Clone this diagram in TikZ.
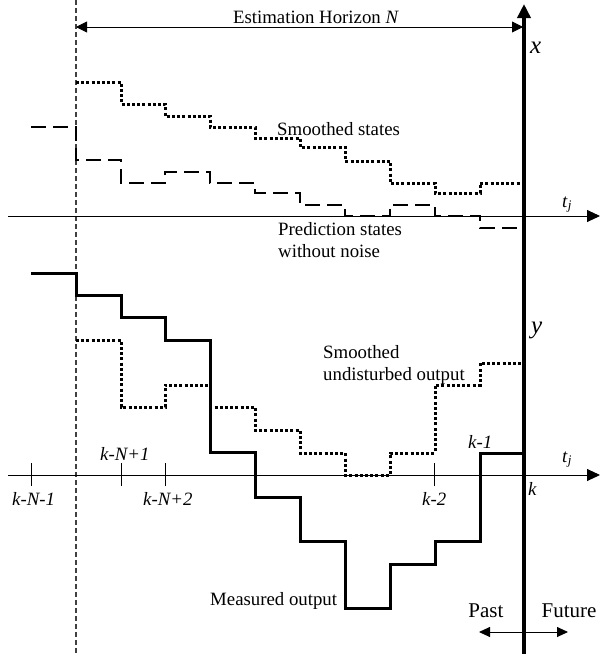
\documentclass[tikz,border=0pt]{standalone}
\usepackage{fontspec}
\setmainfont{Liberation Serif}
\usetikzlibrary{arrows.meta}
\begin{document}
\begin{tikzpicture}[x=1pt,y=-1pt,
  lbl/.style={inner sep=0pt,font=\fontsize{18.8}{21}\selectfont},
  biglbl/.style={inner sep=0pt,font=\fontsize{21}{24}\selectfont},
  axlbl/.style={inner sep=0pt,font=\fontsize{25}{28}\selectfont},
  thinaxis/.style={line width=0.9pt,-{Triangle[length=13pt,width=12pt]}},
  tickmark/.style={line width=0.9pt},
  dottedcurve/.style={line width=3pt,dash pattern=on 3pt off 2.2pt},
  dashedcurve/.style={line width=2.8pt,dash pattern=on 15pt off 7pt},
  solidcurve/.style={line width=3pt},
  bigaxis/.style={line width=4pt,-{Triangle[length=14pt,width=13pt]}},
  dimarrow/.style={line width=0.9pt,{Triangle[length=11pt,width=11pt]}-{Triangle[length=11pt,width=11pt]}},
  smallarrow/.style={line width=0.9pt,-{Triangle[length=11pt,width=10pt]}},
  horizonline/.style={line width=1.1pt,dash pattern=on 5pt off 3pt,black!75}]
\useasboundingbox (0,0) rectangle (600,654);

% coordinates
\coordinate (vtop) at (76,0);
\coordinate (vbot) at (76,654);
\coordinate (kbot) at (524,654);
\coordinate (ktop) at (524,4);
\coordinate (ax1s) at (8,216);
\coordinate (ax1e) at (600,216);
\coordinate (ax2s) at (8,475);
\coordinate (ax2e) at (600,475);
\coordinate (hl) at (76,27);
\coordinate (hr) at (523,27);
\coordinate (pm) at (524,632);
\coordinate (pl) at (479,632);
\coordinate (pr) at (568,632);

% horizon dashed line
\draw[horizonline] (vtop) -- (vbot);

% time axes
\draw[thinaxis] (ax1s) -- (ax1e);
\draw[thinaxis] (ax2s) -- (ax2e);

% ticks
\foreach \tx/\nm in {31/ta,121/tb,165/tc,434/td}{
  \coordinate (\nm u) at (\tx,463);
  \coordinate (\nm d) at (\tx,486);
  \draw[tickmark] (\nm u) -- (\nm d);
}

% estimation horizon arrow
\draw[dimarrow] (hl) -- (hr);
\node[lbl,anchor=base] (hor) at (316,23) {Estimation Horizon \textit{N}};

% smoothed states (dotted)
\draw[dottedcurve] (76,82) -- (121,82) -- (121,104) -- (165,104) -- (165,116) -- (210,116)
  -- (210,127) -- (255,127) -- (255,138) -- (300,138) -- (300,147) -- (345,147)
  -- (345,161) -- (390,161) -- (390,183) -- (435,183) -- (435,193) -- (480,193)
  -- (480,183) -- (524,183);

% prediction states (dashed)
\draw[dashedcurve] (31,127) -- (76,127) -- (76,160) -- (121,160) -- (121,183) -- (165,183)
  -- (165,172) -- (210,172) -- (210,183) -- (255,183) -- (255,193) -- (300,193)
  -- (300,205) -- (345,205) -- (345,216) -- (390,216) -- (390,205) -- (435,205)
  -- (435,216) -- (480,216) -- (480,228) -- (524,228);

% measured output (solid)
\draw[solidcurve] (31,273) -- (76,273) -- (76,295) -- (121,295) -- (121,317) -- (165,317)
  -- (165,340) -- (210,340) -- (210,452) -- (255,452) -- (255,497) -- (300,497)
  -- (300,541) -- (345,541) -- (345,608) -- (390,608) -- (390,564) -- (435,564)
  -- (435,541) -- (480,541) -- (480,453) -- (524,453);

% smoothed output (dotted)
\draw[dottedcurve] (76,340) -- (121,340) -- (121,407) -- (165,407) -- (165,385) -- (210,385)
  -- (210,407) -- (255,407) -- (255,430) -- (300,430) -- (300,453) -- (345,453)
  -- (345,475) -- (390,475) -- (390,453) -- (435,453) -- (435,385) -- (480,385)
  -- (480,363) -- (524,363);

% thick vertical axis
\draw[bigaxis] (kbot) -- (ktop);

% past / future arrows
\draw[smallarrow] (pm) -- (pl);
\draw[smallarrow] (pm) -- (pr);

% labels
\node[lbl,anchor=base west] (ss) at (277,135) {Smoothed states};
\node[lbl,anchor=base west] (ps1) at (278,235) {Prediction states};
\node[lbl,anchor=base west] (ps2) at (278,257) {without noise};
\node[lbl,anchor=base west] (so1) at (323,358) {Smoothed};
\node[lbl,anchor=base west] (so2) at (323,380) {undisturbed output};
\node[lbl,anchor=base west] (mo) at (210,605) {Measured output};
\node[biglbl,anchor=base] (past) at (486,617) {Past};
\node[biglbl,anchor=base] (fut) at (569,617) {Future};
\node[axlbl,anchor=base west] (xl) at (530,53) {\textit{x}};
\node[axlbl,anchor=base west] (yl) at (531,333) {\textit{y}};
\node[lbl,anchor=base west] (t1) at (562,207) {\textit{t}\textsubscript{\textit{j}}};
\node[lbl,anchor=base west] (t2) at (562,462) {\textit{t}\textsubscript{\textit{j}}};
\node[lbl,anchor=base west] (kl) at (528,495) {\textit{k}};
\node[lbl,anchor=base west] (k1) at (468,448) {\textit{k-1}};
\node[lbl,anchor=base west] (kn1) at (100,460) {\textit{k-N+1}};
\node[lbl,anchor=base west] (knm1) at (12,505) {\textit{k-N-1}};
\node[lbl,anchor=base west] (kn2) at (143,505) {\textit{k-N+2}};
\node[lbl,anchor=base west] (k2) at (422,505) {\textit{k-2}};
\end{tikzpicture}
\end{document}
